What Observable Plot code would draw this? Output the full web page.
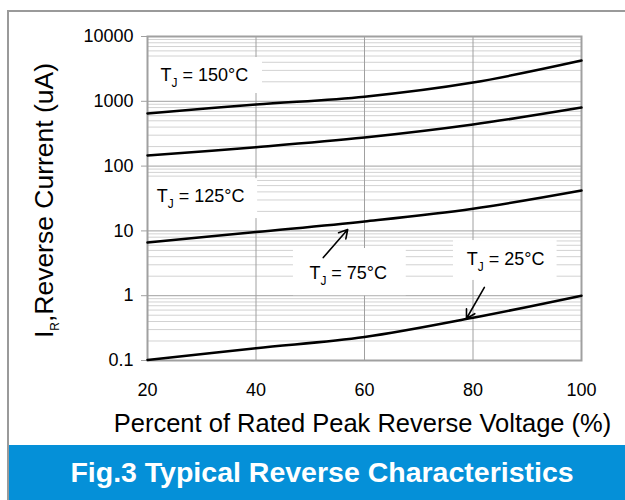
<!DOCTYPE html>
<html><head><meta charset="utf-8">
<script src="https://cdn.jsdelivr.net/npm/d3@7"></script>
<script src="https://cdn.jsdelivr.net/npm/@observablehq/plot@0.6"></script>
<style>
body{margin:0;background:#fff;font-family:"Liberation Sans",Arial,sans-serif;}
#wrap{position:relative;width:625px;height:500px;overflow:hidden;background:#fff;}
#frameL{position:absolute;left:7px;top:10px;width:2px;height:490px;background:#9a9a9a;}
#frameT{position:absolute;left:7px;top:10px;width:618px;height:2px;background:#9a9a9a;}
#chart{position:absolute;left:0;top:0;}
#banner{position:absolute;left:9px;top:445px;width:616px;height:55px;background:#0590d8;color:#fff;font:bold 28.5px "Liberation Sans",Arial,sans-serif;display:flex;align-items:center;justify-content:center;padding-left:10px;box-sizing:border-box;}
</style></head>
<body>
<div id="wrap">
  <div id="chart"></div>
  <div id="frameL"></div>
  <div id="frameT"></div>
  <div id="banner">Fig.3 Typical Reverse Characteristics</div>
</div>
<script>
// ---- data ----
const voltage = [20, 40, 60, 80, 100];
const ir150 = [650, 890, 1180, 1950, 4250];
const ir125 = [146, 196, 276, 438, 800];
const ir75 = [6.6, 9.6, 14, 22, 42];
const ir25 = [0.102, 0.155, 0.23, 0.456, 1.0];
const seriesNames = ["150", "125", "75", "25"];
const xTicks = [20, 40, 60, 80, 100];
const xGrid = [40, 60, 80];
const yTicks = [0.1, 1, 10, 100, 1000, 10000];
const yTickLabels = ["0.1", "1", "10", "100", "1000", "10000"];
const xTitle = "Percent of Rated Peak Reverse Voltage (%)";
const yTitle = "I_R,Reverse Current (uA)";
// annotation labels (data coordinates)
const annText = ["T_J = 150°C", "T_J = 125°C", "T_J = 75°C", "T_J = 25°C"];
const annX = [30.5, 29.8, 57.0, 86.0];
const annY = [2500, 34, 2.2, 3.6];
const boxX1 = [20.2, 20.0, 46.9, 76.4];
const boxX2 = [41.2, 40.3, 67.7, 95.5];
const boxY1 = [1320, 15.5, 1.0, 1.72];
const boxY2 = [4740, 64, 5.35, 7.1];
const arrX1 = [52.4, 82.1];
const arrY1 = [3.88, 1.34];
const arrX2 = [56.9, 78.8];
const arrY2 = [10.5, 0.445];

// ---- build tables ----
const allSeries = [ir150, ir125, ir75, ir25];
const curves = [];
allSeries.forEach((s, k) => s.forEach((v, i) => curves.push({series: seriesNames[k], x: voltage[i], y: v})));
const minor = [];
for (let d = 0; d < yTicks.length - 1; d++) for (let m = 2; m <= 9; m++) minor.push(yTicks[d] * m);
const anns = annText.map((t, i) => ({t, x: annX[i], y: annY[i], x1: boxX1[i], x2: boxX2[i], y1: boxY1[i], y2: boxY2[i]}));
const arrows = arrX1.map((v, i) => ({x1: v, y1: arrY1[i], x2: arrX2[i], y2: arrY2[i]}));

const chart = Plot.plot({
  width: 625, height: 445,
  marginLeft: 147, marginRight: 44, marginTop: 36, marginBottom: 85,
  style: {fontFamily: "'Liberation Sans', Arial, sans-serif", fontSize: "18px", color: "#000", background: "transparent", overflow: "visible"},
  x: {domain: [20, 100], label: null},
  y: {type: "log", domain: [0.1, 10000], label: null},
  marks: [
    Plot.ruleY(minor, {stroke: "#d2d2d2", strokeWidth: 1}),
    Plot.ruleY(yTicks, {stroke: "#a0a0a0", strokeWidth: 1}),
    Plot.ruleX(xGrid, {stroke: "#a0a0a0", strokeWidth: 1}),
    Plot.rect(anns, {x1: "x1", x2: "x2", y1: "y1", y2: "y2", fill: "white"}),
    Plot.frame({stroke: "#a0a0a0", strokeWidth: 2}),
    Plot.axisY({ticks: yTicks, tickFormat: (d) => yTickLabels[yTicks.indexOf(d)], tickSize: 6, tickPadding: 8, stroke: "#a0a0a0", fill: "#000", fontSize: 18, label: null}),
    Plot.axisX({ticks: xTicks, tickFormat: d => String(d), tickSize: 0, tickPadding: 23, fill: "#000", fontSize: 18, label: null}),
    Plot.line(curves, {x: "x", y: "y", z: "series", stroke: "#000", strokeWidth: 2.5, curve: "catmull-rom"}),
    Plot.arrow(arrows, {x1: "x1", y1: "y1", x2: "x2", y2: "y2", stroke: "#000", strokeWidth: 1.6, headLength: 9}),
    Plot.text(anns, {x: "x", y: "y", text: "t", fontSize: 18, fill: "#000", textAnchor: "middle"}),
    Plot.text([xTitle], {frameAnchor: "bottom", dy: 63, dx: -2, lineAnchor: "middle", textAnchor: "middle", text: d => d, fontSize: 25.5, fill: "#000"}),
    Plot.text([yTitle], {frameAnchor: "left", dx: -103, dy: 2, rotate: -90, lineAnchor: "middle", textAnchor: "middle", text: d => d, fontSize: 26.5, fill: "#000"})
  ]
});

// subscripts
d3.select(chart).selectAll("text").each(function () {
  const t = this.textContent;
  const m = t.match(/^(.*?)_(\w)(.*)$/);
  if (!m) return;
  const fs = parseFloat(this.getAttribute("font-size")) || parseFloat(getComputedStyle(this).fontSize) || 18;
  const sel = d3.select(this);
  sel.text(null);
  sel.append("tspan").text(m[1]);
  sel.append("tspan").attr("dy", (fs * 0.32).toFixed(1)).attr("font-size", (fs * 0.66).toFixed(1) + "px").text(m[2]);
  sel.append("tspan").attr("dy", (-fs * 0.32).toFixed(1)).text(m[3]);
});
document.getElementById("chart").appendChild(chart);
</script>
</body></html>
